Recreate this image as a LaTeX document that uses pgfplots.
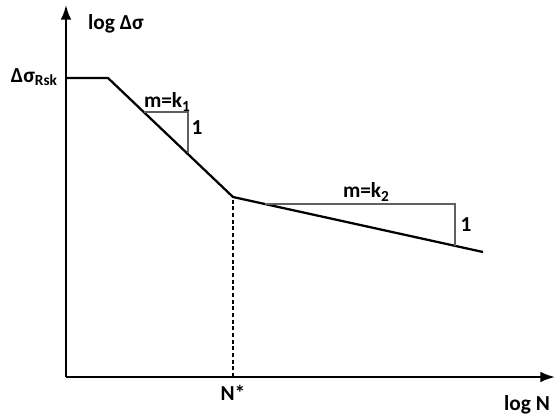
\documentclass[border=0pt]{standalone}
\usepackage{fontspec}
\setmainfont{Carlito}
\usepackage{pgfplots}
\pgfplotsset{compat=1.18}
\usetikzlibrary{arrows.meta}
\newcommand{\sub}[1]{\raisebox{-0.3ex}{\fontsize{11.5}{13}\selectfont #1}}
\begin{document}
\begin{tikzpicture}
\begin{axis}[
  x=0.75pt, y=0.75pt,
  xmin=0, xmax=489, ymin=0, ymax=372,
  enlargelimits=false,
  axis lines=left,
  axis line style={line width=1.5pt, -{Latex[length=11pt,width=8pt]}},
  xtick=\empty, ytick=\empty,
  clip=false,
  font=\fontsize{16}{18}\selectfont\bfseries,
]
\path (axis cs:-66,-37) rectangle (axis cs:493,377);
% S-N curve
\addplot[black, line width=1.7pt, line join=round] coordinates {(0,299) (42,299) (167,180) (417,125)};
% slope triangles
\addplot[gray!75!black, line width=1pt] coordinates {(78,265) (122,265) (122,224)};
\addplot[gray!75!black, line width=1pt] coordinates {(199,173) (389,173) (389,131)};
% N* dashed line
\addplot[black, line width=0.8pt, dash pattern=on 3pt off 2pt] coordinates {(167,0) (167,180)};
% labels
\node at (axis cs:50,353) {log Δσ};
\node at (axis cs:-32,300) {Δσ\sub{Rsk}};
\node at (axis cs:101,275) {m=k\sub{1}};
\node at (axis cs:131,249) {1};
\node at (axis cs:300,185) {m=k\sub{2}};
\node at (axis cs:400,152) {1};
\node at (axis cs:167,-16) {N*};
\node at (axis cs:461,-28) {log N};
\end{axis}
\end{tikzpicture}
\end{document}
